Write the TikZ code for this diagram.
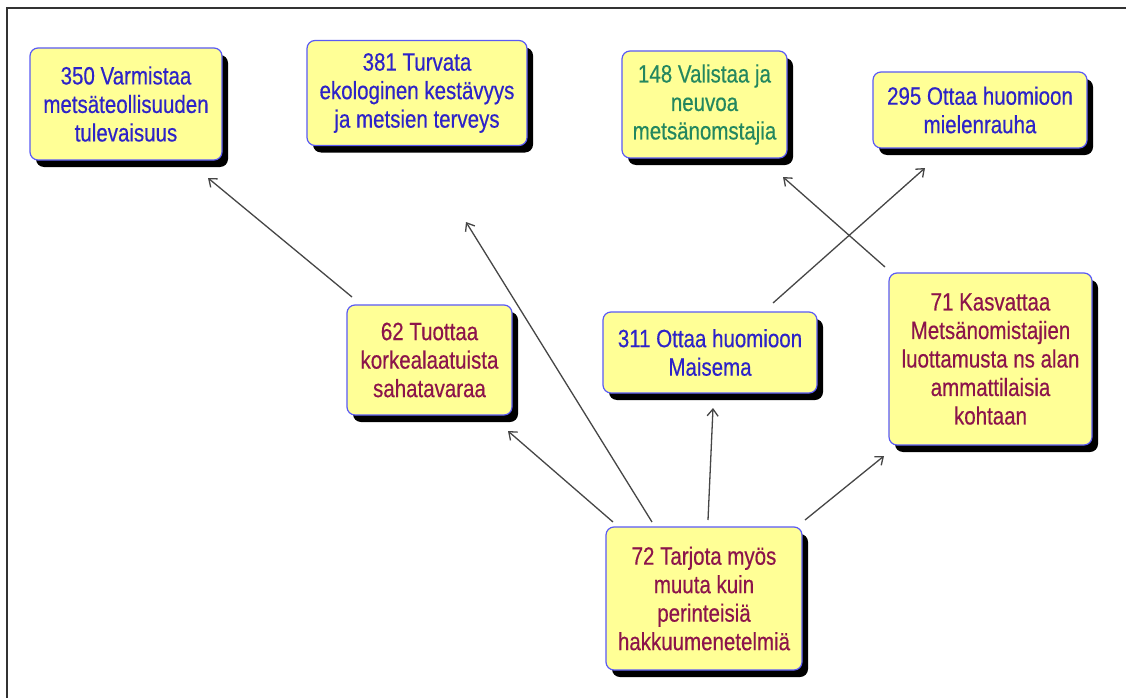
\documentclass[tikz,border=0pt]{standalone}
\usepackage{fontspec}
\setmainfont{Liberation Sans}[FakeStretch=0.82,FakeBold=0.4]
\usetikzlibrary{arrows.meta,shadows}
\definecolor{boxfill}{RGB}{255,255,150}
\definecolor{boxline}{RGB}{90,90,245}
\definecolor{tblue}{RGB}{45,35,200}
\definecolor{tgreen}{RGB}{35,135,95}
\definecolor{tmaroon}{RGB}{140,20,75}
\definecolor{arrowcol}{RGB}{70,70,70}
\definecolor{framecol}{RGB}{50,50,50}
\tikzset{
  goalbox/.style={draw=boxline, line width=1.2pt, fill=boxfill, rounded corners=8pt,
    align=center, inner sep=0pt, font=\fontsize{25}{28.5}\selectfont,
    drop shadow={shadow xshift=6pt, shadow yshift=-7pt, fill=black, opacity=1}},
  conn/.style={draw=arrowcol, line width=1.3pt, -{Straight Barb[length=7pt,width=11pt,line width=1.3pt]}},
  frameline/.style={draw=framecol, line width=2pt}
}
\begin{document}
\begin{tikzpicture}[x=1pt,y=-1pt]
\useasboundingbox (0,0) rectangle (1126,698);
\fill[white] (0,0) rectangle (1126,698);
\coordinate (fbl) at (7,698);
\coordinate (ftl) at (7,8);
\coordinate (ftr) at (1126,8);
\draw[frameline] (fbl) -- (ftl) -- (ftr);

\node[goalbox, minimum width=192pt, minimum height=112pt, text=tblue] (n350) at (126,104)
  {350 Varmistaa\\metsäteollisuuden\\tulevaisuus};
\node[goalbox, minimum width=220pt, minimum height=105pt, text=tblue] (n381) at (417,93)
  {381 Turvata\\ekologinen kestävyys\\ja metsien terveys};
\node[goalbox, minimum width=165pt, minimum height=107pt, text=tgreen] (n148) at (704.5,104.5)
  {148 Valistaa ja\\neuvoa\\metsänomstajia};
\node[goalbox, minimum width=214pt, minimum height=76pt, text=tblue] (n295) at (980,110)
  {295 Ottaa huomioon\\mielenrauha};
\node[goalbox, minimum width=165pt, minimum height=110pt, text=tmaroon] (n62) at (429.5,360)
  {62 Tuottaa\\korkealaatuista\\sahatavaraa};
\node[goalbox, minimum width=214pt, minimum height=81pt, text=tblue] (n311) at (710,352.5)
  {311 Ottaa huomioon\\Maisema};
\node[goalbox, minimum width=203pt, minimum height=172pt, text=tmaroon] (n71) at (990.5,359)
  {71 Kasvattaa\\Metsänomistajien\\luottamusta ns alan\\ammattilaisia\\kohtaan};
\node[goalbox, minimum width=196pt, minimum height=143pt, text=tmaroon] (n72) at (704,598.5)
  {72 Tarjota myös\\muuta kuin\\perinteisiä\\hakkuumenetelmiä};

% connector ends
\coordinate (t62a) at (352,297);   \coordinate (h350) at (208,178);
\coordinate (t72a) at (652,522);   \coordinate (h381) at (466,222);
\coordinate (t72b) at (613,522);   \coordinate (h62)  at (508,431);
\coordinate (t72c) at (708,520);   \coordinate (h311) at (713,408);
\coordinate (t72d) at (805,520);   \coordinate (h71)  at (884,456);
\coordinate (t311) at (773,303);   \coordinate (h295) at (925,168);
\coordinate (t71)  at (885,267);   \coordinate (h148) at (783,177);

\draw[conn] (t62a) -- (h350);
\draw[conn] (t72a) -- (h381);
\draw[conn] (t72b) -- (h62);
\draw[conn] (t72c) -- (h311);
\draw[conn] (t72d) -- (h71);
\draw[conn] (t311) -- (h295);
\draw[conn] (t71) -- (h148);
\end{tikzpicture}
\end{document}
